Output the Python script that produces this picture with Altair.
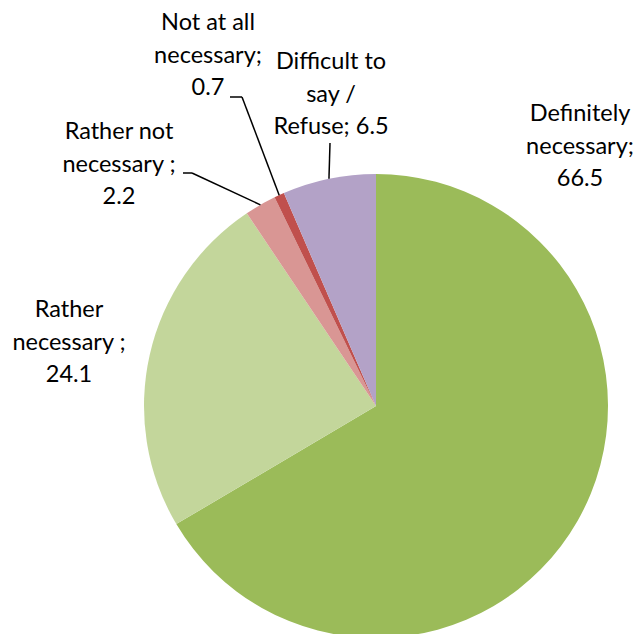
import altair as alt
import pandas as pd
import numpy as np

# ---- data ----
categories = ["Definitely necessary", "Rather necessary", "Rather not necessary",
              "Not at all necessary", "Difficult to say / Refuse"]
values = [66.5, 24.1, 2.2, 0.7, 6.5]
label_texts = ["Definitely\nnecessary;\n66.5", "Rather\nnecessary ;\n24.1",
               "Rather not\nnecessary ;\n2.2", "Not at all\nnecessary;\n0.7",
               "Difficult to\nsay /\nRefuse; 6.5"]
colors = ["#9BBB59", "#C3D69B", "#D99694", "#C0504D", "#B3A2C7"]

# ---- layout (pixels in chart coordinates; y = centre of first text line) ----
CX, CY, R = 368, 398, 232
label_pos = [(572, 106), (61, 302), (111, 124), (200, 15), (323, 54)]
# leader line start points near the label, per category (None = no leader)
leader_start = [None, None, [(175, 165), (184, 165)], [(222, 89), (234, 89)], [(322, 135)]]

df = pd.DataFrame({"cat": categories, "val": values, "ord": range(len(values))})

pie = alt.Chart(df).mark_arc(outerRadius=R).encode(
    theta=alt.Theta("val:Q", stack=True),
    order=alt.Order("ord:Q"),
    color=alt.Color("cat:N", scale=alt.Scale(domain=categories, range=colors), legend=None),
    x=alt.value(CX), y=alt.value(CY),
)

lab = pd.DataFrame({"t": label_texts,
                    "lx": [p[0] for p in label_pos],
                    "ly": [p[1] for p in label_pos]})
texts = alt.Chart(lab).mark_text(font="Lato", fontSize=23.5, lineBreak="\n",
                                 lineHeight=32.5, align="center", baseline="middle",
                                 color="#000000").encode(
    x=alt.X("lx:Q", scale=None), y=alt.Y("ly:Q", scale=None), text="t:N")

# leader lines: end on the slice edge at the middle angle of each slice
cum = np.cumsum(values)
segs = []
for i, start in enumerate(leader_start):
    if start is None:
        continue
    mid = (cum[i] - values[i] / 2) / sum(values) * 2 * np.pi
    ex, ey = CX + R * np.sin(mid), CY - R * np.cos(mid)
    pts = list(start) + [(ex, ey)]
    for a, b in zip(pts[:-1], pts[1:]):
        segs.append({"x": a[0], "y": a[1], "x2": b[0], "y2": b[1]})
seg_df = pd.DataFrame(segs)
leaders = alt.Chart(seg_df).mark_rule(color="#000000", strokeWidth=1.5).encode(
    x=alt.X("x:Q", scale=None), y=alt.Y("y:Q", scale=None),
    x2="x2:Q", y2="y2:Q")

chart = alt.layer(pie, leaders, texts).properties(
    width=627, height=640, autosize=alt.AutoSizeParams(type="none"), padding=0
).configure_view(stroke=None)

chart.save("out.html", embed_options={"renderer": "svg", "actions": False})
